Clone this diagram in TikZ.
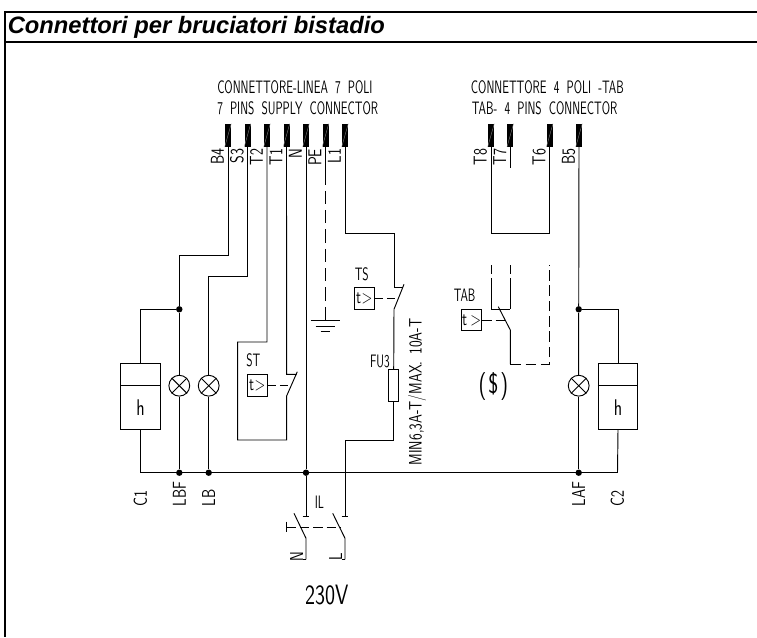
\documentclass[tikz,border=0pt]{standalone}
\usepackage{fontspec}
\setmainfont{Liberation Sans}
\newfontfamily\cadfont[FakeStretch=.64,WordSpace=1.9]{Latin Modern Sans}
\newfontfamily\cadwide[FakeStretch=.76,WordSpace=1.5]{Latin Modern Sans}
\usetikzlibrary{calc}
\tikzset{
  wire/.style={black, line width=.7pt},
  dashwire/.style={wire, dash pattern=on 9pt off 4.5pt},
  frameline/.style={black, line width=1.5pt},
  cad/.style={font=\cadfont\fontsize{13.5}{15}\selectfont, inner sep=0},
  cadv/.style={cad, rotate=90},
  pinlabel/.style={cadv, font=\cadwide\fontsize{14}{16}\selectfont},
  pinbar/.style={fill=black, inner sep=0, minimum width=4.5pt, minimum height=17pt},
  joint/.style={circle, fill=black, inner sep=0, minimum size=4.8pt},
  relay/.style={draw, wire, font=\cadwide\fontsize{14}{16}\selectfont, inner sep=0, minimum width=15pt, minimum height=16pt},
  lamp/.style={draw, wire, circle, inner sep=0, minimum size=15.6pt},
  heater/.style={draw, wire, inner sep=0, minimum width=29.6pt, minimum height=49.2pt},
  fuse/.style={draw, wire, inner sep=0, minimum width=7.5pt, minimum height=24.4pt}
}
\begin{document}
\begin{tikzpicture}[x=.75pt,y=-.75pt]
\useasboundingbox (0,0) rectangle (757,637);
\coordinate (frameTL) at (5,12);
\coordinate (frameTR) at (757,12);
\coordinate (frameML) at (5,42);
\coordinate (frameMR) at (757,42);
\coordinate (frameBL) at (5,637);
\draw[frameline] (frameTR) -- (frameTL) -- (frameBL);
\draw[frameline] (frameML) -- (frameMR);
\node[anchor=west, inner sep=0, font=\fontsize{17.8}{20}\selectfont\bfseries\itshape] (title) at (7.5,27) {Connettori per bruciatori bistadio};
\node[cad, anchor=west] (headA) at (217,87) {CONNETTORE-LINEA 7 POLI};
\node[cad, anchor=west] (headB) at (217,108) {7 PINS SUPPLY CONNECTOR};
\node[cad, anchor=west] (headC) at (470.7,87) {CONNETTORE 4 POLI -TAB};
\node[cad, anchor=west] (headD) at (471.7,108) {TAB- 4 PINS CONNECTOR};
\foreach \name/\x in {B4/228,S3/247.5,T2/267,T1/286.5,N/306,PE/325.5,L1/345,T8/491,T7/510.3,T6/549.7,B5/579} {
  \node[pinbar] (\name) at (\x,135.2) {};
  \draw[gray, line width=.3pt] (\name.south west) -- (\name.north east);
  \node[pinlabel, anchor=east] (lbl\name) at (\x-10.5,148.5) {\name};
}
\foreach \name/\x/\txt in {cOne/140.5/C1,cLbf/179.3/LBF,cLb/208.7/LB,cLaf/578.7/LAF,cTwo/617.5/C2} {
  \coordinate (bus\name) at (\x,472.7);
  \node[pinlabel, anchor=west] (lbl\name) at (\x,506.3) {\txt};
}
\foreach \name/\x in {Lbf/179.3,Lb/208.7,Laf/578.7} {
  \node[lamp] (lamp\name) at (\x,385.7) {};
  \draw[wire] (lamp\name.45) -- (lamp\name.225);
  \draw[wire] (lamp\name.135) -- (lamp\name.315);
  \node[joint] (dotbus\name) at (\x,472.7) {};
  \draw[wire] (lamp\name.south) -- (dotbus\name);
}
\node[joint] (dotbusN) at (306,472.7) {};
\node[joint] (dotA) at (179.3,309.3) {};
\node[joint] (dotB) at (578.7,309.3) {};
\node[heater] (heatA) at (140.5,396.3) {};
\node[heater] (heatB) at (618,396.3) {};
\node[font=\cadwide\fontsize{17}{19}\selectfont, inner sep=0] (hA) at (140.5,408) {h};
\node[font=\cadwide\fontsize{17}{19}\selectfont, inner sep=0] (hB) at (618,408) {h};
\draw[wire] (heatA.west |- lampLbf) -- (heatA.east |- lampLbf);
\draw[wire] (heatB.west |- lampLbf) -- (heatB.east |- lampLbf);
\draw[wire] (buscOne) -- (buscTwo);
\draw[wire] (heatA.north) |- (dotA);
\draw[wire] (heatA.south) -- (buscOne);
\draw[wire] (heatB.north) |- (dotB);
\draw[wire] (heatB.south) -- (buscTwo);
\draw[wire] (dotA) -- (lampLbf.north);
\draw[wire] (B5.south) -- (dotB) -- (lampLaf.north);
\coordinate (bendBfour) at (179.3,255);
\draw[wire] (B4.south) |- (bendBfour) -- (dotA);
\coordinate (bendSthree) at (208.7,276.5);
\draw[wire] (S3.south) |- (bendSthree) -- (lampLb.north);
\node[relay] (relayST) at (257.3,385.6) {t\hspace{.5pt}>};
\node[cad, anchor=west] (lblST) at (246,360.7) {ST};
\coordinate (contactST) at (286.6,374.3);
\coordinate (bladeST) at (286.6,396);
\coordinate (tipST) at (297.3,371.7);
\coordinate (stubST) at (296.5,374.3);
\coordinate (bendTa) at (237.7,342);
\coordinate (bendTb) at (237.7,440);
\coordinate (dashST) at (290.5,385.6);
\draw[wire] (T1.south) -- (contactST) -- (stubST);
\draw[wire] (T2.south) |- (bendTa) -- (bendTb) -| (bladeST) -- (tipST);
\draw[dashwire, dash pattern=on 6pt off 3pt] (relayST.east) -- (dashST);
\draw[dashwire, dash pattern=on 29pt off 4pt on 10pt off 4.5pt on 10pt off 4.5pt on 10pt off 4.5pt on 10pt off 4.5pt on 10pt off 4.5pt on 10pt off 4.5pt on 10pt off 4.5pt on 30pt] (PE.south) -- ++(0,174) coordinate (earth);
\draw[wire] ($(earth)+(-14.8,0)$) -- ($(earth)+(14.8,0)$);
\draw[wire] ($(earth)+(-9.8,5.3)$) -- ($(earth)+(9.8,5.3)$);
\draw[wire] ($(earth)+(-4.8,10.7)$) -- ($(earth)+(4.8,10.7)$);
\node[relay] (relayTS) at (364.3,298.5) {t\hspace{.5pt}>};
\node[cad, anchor=west] (lblTS) at (354.5,274) {TS};
\coordinate (bendLa) at (394,233.3);
\coordinate (contactTS) at (394,287.5);
\coordinate (stubTS) at (403,287.5);
\coordinate (bladeTS) at (394,309.3);
\coordinate (tipTS) at (404,284.3);
\coordinate (dashTS) at (398,298.5);
\draw[wire] (L1.south) |- (bendLa) -- (contactTS) -- (stubTS);
\draw[dashwire, dash pattern=on 6pt off 3pt] (relayTS.east) -- (dashTS);
\node[fuse] (fuseFU) at (393.7,385.5) {};
\draw[wire] (bladeTS) -- (tipTS);
\draw[wire] (bladeTS) -- (fuseFU.north);
\node[cad, anchor=east] (lblFU) at (390,361) {FU3};
\node[cadv, font=\cadwide\fontsize{13.5}{15}\selectfont] (lblMax) at (417,392) {MIN6,3A-T/MAX. 10A-T};
\coordinate (bendFa) at (345,440);
\coordinate (poleN) at (306,516);
\coordinate (poleL) at (345,516);
\draw[wire] (fuseFU.south) |- (bendFa) -- (poleL);
\draw[wire] (N.south) -- (dotbusN) -- (poleN);
\draw[wire] ($(poleN)+(-3.3,0)$) -- ($(poleN)+(3.3,0)$);
\draw[wire] ($(poleL)+(-3.3,0)$) -- ($(poleL)+(3.3,0)$);
\node[cad, anchor=west] (lblIL) at (314.5,502) {IL};
\coordinate (bladeN) at (306,538.3);
\coordinate (bladeL) at (345,538.3);
\coordinate (endN) at (306,559.3);
\coordinate (endL) at (345,559.3);
\coordinate (handleIL) at (286.7,527);
\coordinate (dashIL) at (340.7,527);
\draw[wire] (endN) -- (bladeN) -- ++(-12,-25);
\draw[wire] (endL) -- (bladeL) -- ++(-12.3,-25);
\draw[wire] (endN) -- ++(-3.2,0);
\draw[wire] (endL) -- ++(-3.2,0);
\draw[dashwire, dash pattern=on 7pt off 3pt] (handleIL) -- (dashIL);
\draw[wire] ($(handleIL)+(0,-5.3)$) -- ($(handleIL)+(0,5.3)$);
\node[pinlabel] (lblNin) at (296.7,556.5) {N};
\node[pinlabel] (lblLin) at (335.7,556.5) {L};
\node[font=\cadwide\fontsize{21}{24}\selectfont, inner sep=0] (lblV) at (326.7,595) {230V};
\coordinate (bendTi) at (491,233.3);
\coordinate (endTs) at (510.3,168);
\draw[wire] (T7.south) -- (endTs);
\draw[wire] (T8.south) -- (bendTi) -| (T6.south);
\node[relay] (relayTAB) at (471.7,320) {t\,>};
\node[cad, anchor=west] (lblTAB) at (453.5,295.7) {TAB};
\coordinate (topA) at (491,265);
\coordinate (topB) at (510.3,265);
\coordinate (topC) at (549.5,265);
\coordinate (cornA) at (491,309.3);
\coordinate (cornB) at (510.3,309.3);
\coordinate (tipTAB) at (498.3,306.7);
\coordinate (bladeTAB) at (510.3,330);
\coordinate (footTAB) at (510.3,364);
\coordinate (cornC) at (549.5,364);
\coordinate (dashTAB) at (505,320);
\draw[dashwire, dash pattern=on 7pt off 3.5pt] (topA) -- ++(0,10);
\draw[wire] ($(topA)+(0,13)$) -- (cornA) -- (cornB);
\draw[dashwire, dash pattern=on 7pt off 3.5pt] (topB) -- ++(0,10);
\draw[wire] ($(topB)+(0,13)$) -- (cornB);
\draw[wire] (tipTAB) -- (bladeTAB) -- (footTAB);
\draw[dashwire, dash pattern=on 8pt off 3.5pt] (footTAB) -- (cornC) -- (topC);
\draw[dashwire, dash pattern=on 7pt off 3pt] (relayTAB.east) -- (dashTAB);
\node[font=\cadwide\fontsize{21}{24}\selectfont, inner sep=0] (lblDollar) at (493.3,386.7) {(\hspace{1.5pt}\$\hspace{1.5pt})};
\end{tikzpicture}
\end{document}
